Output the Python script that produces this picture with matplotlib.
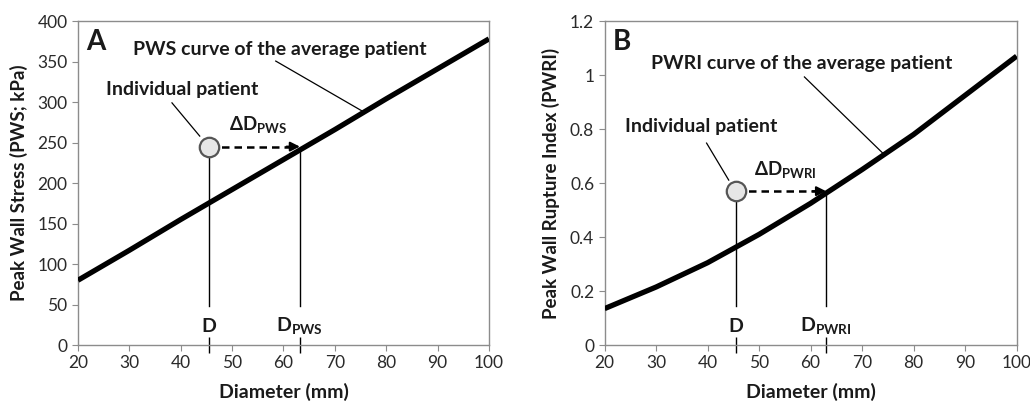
import matplotlib
matplotlib.use("Agg")
import matplotlib.pyplot as plt
from matplotlib.ticker import FixedFormatter

plt.rcParams['font.family'] = ['Lato', 'DejaVu Sans']
plt.rcParams['mathtext.fontset'] = 'custom'
plt.rcParams['mathtext.rm'] = 'Lato'
plt.rcParams['mathtext.bf'] = 'Lato:bold'

# data
diameter = [20, 30, 40, 50, 60, 70, 80, 90, 100]
pws_avg = [80, 117, 155, 192, 229, 266, 304, 341, 378]
pwri_avg = [0.135, 0.215, 0.305, 0.41, 0.525, 0.65, 0.78, 0.925, 1.07]

patient_d = 45.5
patient_pws = 245
d_pws = 63.2
patient_pwri = 0.57
d_pwri = 63.0

x_ticks = [20, 30, 40, 50, 60, 70, 80, 90, 100]
pws_ticks = [0, 50, 100, 150, 200, 250, 300, 350, 400]
pwri_ticks = [0, 0.2, 0.4, 0.6, 0.8, 1.0, 1.2]
pwri_ticklabels = ["0", "0.2", "0.4", "0.6", "0.8", "1", "1.2"]

GRAY = "#8c8c8c"
TXT = "#1a1a1a"


def style_axes(ax, yticks, yticklabels, ymax):
    ax.set_xlim(20, 100)
    ax.set_ylim(0, ymax)
    ax.set_xticks(x_ticks)
    ax.set_yticks(yticks)
    ax.set_yticklabels(yticklabels)
    for s in ax.spines.values():
        s.set_color(GRAY)
        s.set_linewidth(1.0)
    ax.tick_params(which="major", direction="out", length=4, color=GRAY,
                   labelsize=12.5, labelcolor="#2a2a2a")
    ax.set_xlabel("Diameter (mm)", fontsize=14, fontweight="bold", color=TXT, labelpad=8)


def panel(ax, curve, pt_y, d_target, ymax, letter, curve_label, sub, yl, yticks, yticklabels,
          txt_ind, lead_ind, txt_curve, lead_curve, drop_bottom):
    style_axes(ax, yticks, yticklabels, ymax)
    ax.set_ylabel(yl, fontsize=13.5, fontweight="bold", color=TXT, labelpad=7)
    ax.plot(diameter, curve, color="black", lw=3.8, solid_capstyle="butt", zorder=3)

    # vertical drop lines
    ax.plot([patient_d, patient_d], [drop_bottom, pt_y], color="black", lw=1.0, zorder=2)
    ax.plot([d_target, d_target], [drop_bottom, pt_y * 0.985], color="black", lw=1.0, zorder=2)

    # dashed arrow from patient to curve
    ax.plot([patient_d, d_target - 2.2], [pt_y, pt_y], color="black", lw=1.8,
            ls=(0, (3, 2)), zorder=2)
    ax.annotate("", xy=(d_target, pt_y), xytext=(d_target - 2.6, pt_y),
                arrowprops=dict(arrowstyle="-|>", color="black", lw=1.5,
                                mutation_scale=14, shrinkA=0, shrinkB=0), zorder=4)
    ax.plot([patient_d], [pt_y], marker="o", ms=14, mfc="#e6e6e6", mec="#555555",
            mew=1.6, zorder=5)

    ax.text(55.0, pt_y + 0.065 * ymax, r"$\mathbf{\Delta D}_{\mathbf{" + sub + "}}$",
            ha="center", va="center", fontsize=13.5, color=TXT)

    # leader lines and labels
    ax.text(txt_ind[0], txt_ind[1], "Individual patient", fontsize=14, fontweight="bold",
            color=TXT, ha="left", va="center")
    ax.plot(lead_ind[0], lead_ind[1], color="black", lw=0.9)
    ax.text(txt_curve[0], txt_curve[1], curve_label, fontsize=14, fontweight="bold",
            color=TXT, ha="left", va="center")
    ax.plot(lead_curve[0], lead_curve[1], color="black", lw=0.9)

    ax.text(21.6, 0.935 * ymax, letter, fontsize=20, fontweight="bold", color=TXT,
            ha="left", va="center")

    # D markers on x axis
    ax.set_xticks([patient_d, d_target], minor=True)
    ax.tick_params(which="minor", direction="inout", length=12, width=1.0, color="black")
    ax.xaxis.set_minor_formatter(FixedFormatter(["", ""]))
    ax.text(patient_d, 0.058 * ymax, "D", fontsize=14, fontweight="bold", color=TXT,
            ha="center", va="center")
    ax.text(d_target, 0.058 * ymax, r"$\mathbf{D}_{\mathbf{" + sub + "}}$", fontsize=14,
            color=TXT, ha="center", va="center")


fig = plt.figure(figsize=(10.3, 4.05), dpi=100)
axA = fig.add_axes([0.0757, 0.148, 0.399, 0.800])
axB = fig.add_axes([0.587, 0.148, 0.400, 0.800])

panel(axA, pws_avg, patient_pws, d_pws, 400, "A", "PWS curve of the average patient", "PWS",
      "Peak Wall Stress (PWS; kPa)", pws_ticks, [str(t) for t in pws_ticks],
      (25.5, 315), ([38.3, 43.7], [299, 258]),
      (30.7, 365), ([58.5, 75.3], [350.6, 289]), 48)

panel(axB, pwri_avg, patient_pwri, d_pwri, 1.2, "B", "PWRI curve of the average patient", "PWRI",
      "Peak Wall Rupture Index (PWRI)", pwri_ticks, pwri_ticklabels,
      (23.9, 0.811), ([39.8, 44.1], [0.748, 0.611]),
      (29.1, 1.044), ([58.8, 74.0], [0.993, 0.711]), 0.145)

fig.savefig("out.png", dpi=100)
